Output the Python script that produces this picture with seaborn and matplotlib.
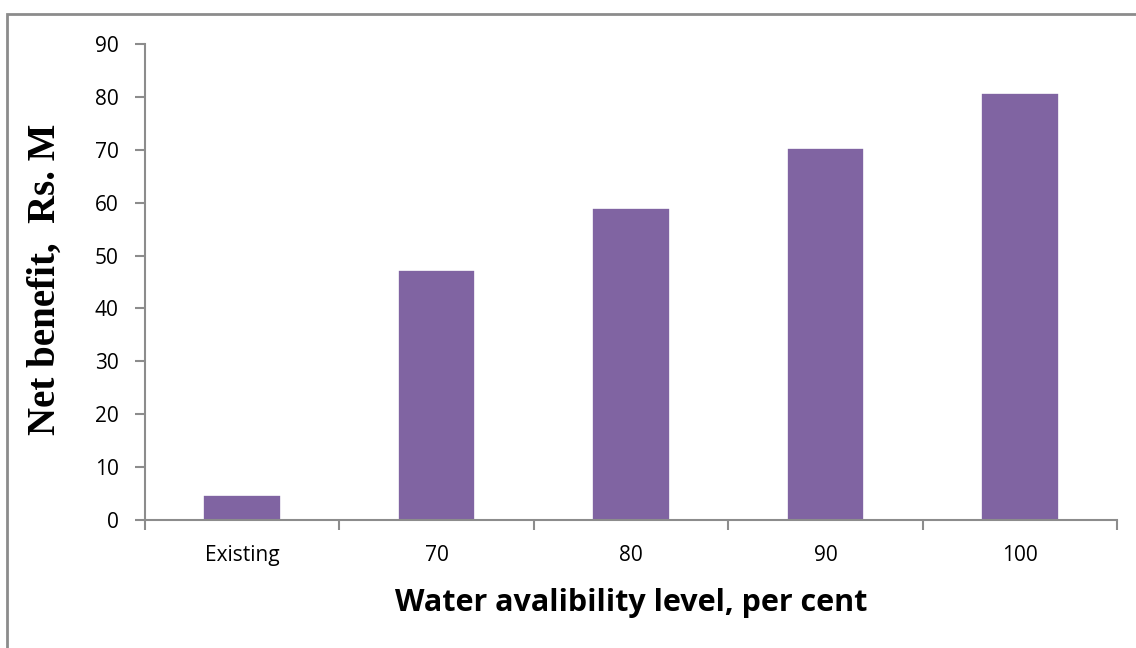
import matplotlib
matplotlib.use("Agg")
import matplotlib.pyplot as plt
import matplotlib.ticker as ticker
import matplotlib.patches as mpatches
import seaborn as sns
import pandas as pd

# Data
levels = ["Existing", "70", "80", "90", "100"]
net_benefit = [4.7, 47.3, 59.0, 70.3, 80.7]

df = pd.DataFrame({"level": levels, "benefit": net_benefit})

sns.set_theme(style="white")
plt.rcParams['font.family'] = ['Open Sans', 'DejaVu Sans']

fig = plt.figure(figsize=(11.36, 6.48), dpi=100)
ax = fig.add_axes([145 / 1136, 1 - 520 / 648, (1117 - 145) / 1136, (520 - 44) / 648])

sns.barplot(data=df, x="level", y="benefit", color="#8064A2", saturation=1,
            width=0.4, edgecolor="white", linewidth=1.2, ax=ax)

grey = "#8c8c8c"
ax.set_ylim(0, 90)
ax.set_xlim(-0.5, len(levels) - 0.5)
ax.yaxis.set_major_locator(ticker.MultipleLocator(10))

# Excel style: category ticks sit between the bars
ax.set_xticks([i - 0.5 for i in range(len(levels) + 1)], minor=True)
ax.tick_params(axis="x", which="major", length=0, labelsize=15, pad=18, labelcolor="black")
ax.tick_params(axis="x", which="minor", length=7, width=1.5, color=grey, direction="out", bottom=True)
ax.tick_params(axis="y", length=7, width=1.5, color=grey, direction="out", left=True,
               labelsize=15, pad=12, labelcolor="black")

for side in ["top", "right"]:
    ax.spines[side].set_visible(False)
for side in ["left", "bottom"]:
    ax.spines[side].set_color(grey)
    ax.spines[side].set_linewidth(1.5)

ax.set_xlabel("Water avalibility level, per cent", fontsize=22, fontweight="bold", color="black")
ax.xaxis.set_label_coords(0.5, -0.143)
ax.set_ylabel("Net benefit,  Rs. M", fontsize=28, fontweight="bold", color="black",
              family=["Liberation Serif", "DejaVu Serif"])
ax.yaxis.set_label_coords(-0.083, 0.505)

# chart frame, cut off at the right and bottom like the reference
frame = mpatches.Rectangle((7 / 1136, -0.05), 1.1, 1 - 14 / 648 + 0.05,
                           transform=fig.transFigure, fill=False,
                           edgecolor=grey, linewidth=2)
fig.patches.append(frame)

fig.savefig("out.png", dpi=100)
